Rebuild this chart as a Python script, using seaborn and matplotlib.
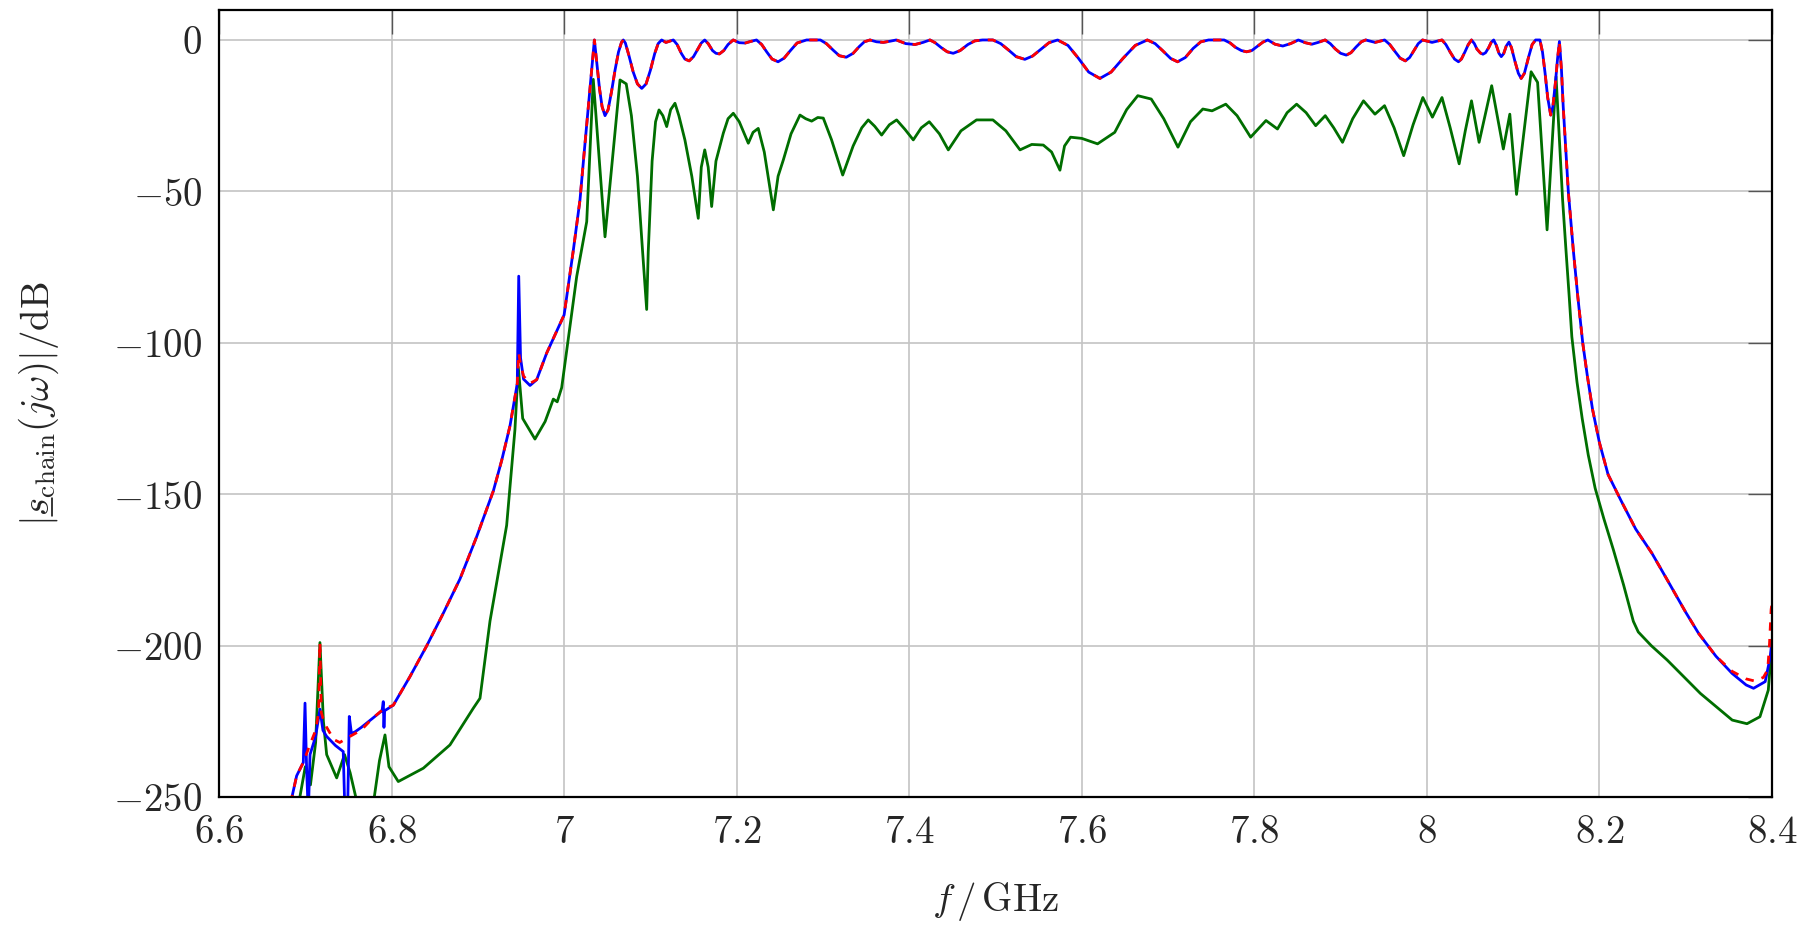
import numpy as np
import pandas as pd
import seaborn as sns
import matplotlib
matplotlib.use("Agg")
import matplotlib.pyplot as plt
from matplotlib.lines import Line2D
from matplotlib.transforms import IdentityTransform
from matplotlib.font_manager import FontProperties

# ---------------- data ----------------
# left low-frequency region (blue and red differ)
low_blue_f = [6.683, 6.690, 6.6977, 6.6997, 6.7015, 6.7035, 6.7055, 6.712, 6.717, 6.7205,
              6.7248, 6.735, 6.744, 6.746, 6.749, 6.751, 6.7535, 6.7576, 6.765, 6.778,
              6.789, 6.7904, 6.7912, 6.792]
low_blue_db = [-252, -243, -238.6, -219, -240, -256, -236, -230, -221, -228,
               -230, -233, -235, -256, -256, -223.4, -229, -228.5, -227, -224,
               -221.5, -218.5, -227, -221.5]
low_red_f = [6.683, 6.690, 6.6977, 6.705, 6.712, 6.7155, 6.717, 6.7185, 6.7205, 6.7248,
             6.733, 6.740, 6.7518, 6.7648, 6.778, 6.7904]
low_red_db = [-252, -243, -238.6, -233, -228, -222, -199, -222, -224, -227,
              -231, -232, -230, -227.9, -224, -221]

# shared rising flank
rise_f = [6.802, 6.8214, 6.8407, 6.86, 6.8793, 6.8987, 6.918, 6.9277, 6.9373, 6.9457]
rise_db = [-219.7, -210.2, -200.1, -189.3, -178, -164, -148.9, -138.8, -127.4, -113.5]

# spike near 6.95 GHz (differs)
spike_blue_f = [6.9474, 6.9495, 6.953, 6.9605]
spike_blue_db = [-78, -105, -112, -114.1]
spike_red_f = [6.9474, 6.9495, 6.953, 6.9605]
spike_red_db = [-103.4, -107, -111, -113.4]

# shared: upper flank, passband ripple and falling flank
band_f = [6.9682, 6.9798, 7.0, 7.0107, 7.0184, 7.023, 7.030, 7.0351,
          7.038, 7.041, 7.044, 7.0474, 7.051, 7.055, 7.059, 7.063, 7.0665, 7.0686,
          7.071, 7.075, 7.080, 7.085, 7.090, 7.095, 7.100, 7.105, 7.109, 7.113,
          7.118, 7.1266, 7.131, 7.136, 7.140, 7.145, 7.150, 7.155, 7.159, 7.163,
          7.167, 7.172, 7.176, 7.180, 7.185, 7.190, 7.196, 7.203, 7.210, 7.216,
          7.223, 7.229, 7.235, 7.241, 7.248, 7.255, 7.262, 7.270, 7.281, 7.297,
          7.304, 7.312, 7.319, 7.327, 7.335, 7.342, 7.348, 7.3545, 7.362, 7.370,
          7.378, 7.385, 7.396, 7.4067, 7.416, 7.424, 7.430, 7.437, 7.444, 7.451,
          7.459, 7.468, 7.476, 7.485, 7.497, 7.506, 7.515, 7.524, 7.534, 7.543,
          7.553, 7.562, 7.572, 7.584, 7.596, 7.608, 7.621, 7.634, 7.648, 7.662,
          7.676, 7.685, 7.694, 7.703, 7.711, 7.720, 7.729, 7.738, 7.747, 7.765,
          7.772, 7.778, 7.785, 7.791, 7.797, 7.803, 7.810, 7.8157, 7.824, 7.833,
          7.842, 7.851, 7.859, 7.8667, 7.874, 7.882, 7.888, 7.894, 7.900, 7.9066,
          7.912, 7.918, 7.924, 7.929, 7.940, 7.951, 7.957, 7.963, 7.969, 7.975,
          7.980, 7.985, 7.990, 7.995, 8.006, 8.0175, 8.022, 8.027, 8.032, 8.0366,
          8.040, 8.044, 8.048, 8.0517, 8.055, 8.058, 8.062, 8.065, 8.068, 8.0715,
          8.0745, 8.0774, 8.0805, 8.0835, 8.0862, 8.089, 8.092, 8.0951, 8.098, 8.102,
          8.106, 8.1093, 8.113, 8.118, 8.122, 8.126, 8.131, 8.134, 8.137, 8.140,
          8.1435, 8.146, 8.149, 8.1515, 8.1536, 8.156, 8.158, 8.1639, 8.1697, 8.175,
          8.1806, 8.186, 8.192, 8.2, 8.21, 8.2248, 8.242, 8.2608, 8.28, 8.30,
          8.315, 8.335]
band_db = [-112.2, -103.4, -90.8, -69.4, -52.8, -38, -16, 0,
           -8, -16, -22, -25, -23, -17, -10, -4, -0.8, 0,
           -1, -5, -10.5, -14.5, -16, -14.5, -10, -4.5, -1.2, 0,
           -0.8, 0, -1.5, -4.5, -6.3, -6.9, -5.5, -3, -1, 0,
           -1.2, -3.5, -4.4, -4.6, -3.5, -1.5, 0, -0.9, -1, -0.5,
           0, -1.5, -4, -6.3, -7.2, -6, -3.6, -1, 0, 0,
           -1.2, -3.4, -5.2, -5.7, -4.4, -2.2, -0.6, 0, -0.6, -0.8,
           -0.4, 0, -1.2, -1.5, -0.8, 0, -0.9, -2.5, -3.9, -4.4,
           -3.5, -1.5, -0.3, 0, 0, -1.2, -3.3, -5.5, -6.4, -5.3,
           -3, -0.9, 0, -1.8, -6, -10.6, -12.7, -10.6, -6, -1.8,
           0, -1.2, -3.6, -6.1, -7.2, -5.8, -2.8, -0.6, 0, 0,
           -1, -2.4, -3.5, -3.9, -3.5, -2.2, -0.7, 0, -1.4, -2,
           -1.2, 0, -0.9, -1.4, -0.8, 0, -1.2, -3, -4.4, -5,
           -4.2, -2.3, -0.6, 0, -0.8, 0, -1.5, -3.8, -6, -6.9,
           -5.8, -3.5, -1.2, 0, -0.8, 0, -1.5, -4, -6.3, -7.2,
           -6.3, -4, -1.5, 0, -1.2, -3, -4.3, -4.7, -4.2, -2.6,
           -0.8, 0, -1.8, -4.4, -5.5, -4.5, -2, -0.7, -2.5, -7,
           -11, -12.7, -11, -5.5, -1.5, 0, 0, -4, -11, -19,
           -24.8, -22, -14, -6, -0.5, -10, -22, -50, -69.4, -85,
           -100, -111, -122, -133, -143.5, -152, -161.5, -169.5, -179, -189,
           -196, -203.5]

# right high-frequency end (differs)
high_blue_f = [8.3538, 8.37, 8.3786, 8.3921, 8.398, 8.4]
high_blue_db = [-209.2, -213, -214.1, -211.9, -203.7, -198]
high_red_f = [8.3538, 8.37, 8.38, 8.39, 8.395, 8.397, 8.399, 8.4]
high_red_db = [-208.5, -211, -211.7, -210.5, -208, -200, -188, -186]

# green curve
green_f = [6.690, 6.700, 6.706, 6.712, 6.717, 6.721, 6.7248, 6.7364, 6.7455, 6.752,
           6.7634, 6.777, 6.786, 6.7924, 6.797, 6.8078, 6.8368, 6.8677, 6.8947, 6.9025,
           6.9141, 6.9334, 6.943, 6.9469, 6.952, 6.9662, 6.978, 6.9875, 6.992, 6.9972,
           7.0146, 7.0262, 7.0338, 7.0474, 7.0648, 7.072, 7.078, 7.085, 7.091, 7.0957,
           7.0975, 7.102, 7.106, 7.11, 7.1145, 7.1189, 7.1235, 7.1285, 7.133, 7.14,
           7.148, 7.1555, 7.159, 7.163, 7.167, 7.171, 7.176, 7.1845, 7.19, 7.1961,
           7.203, 7.2135, 7.219, 7.225, 7.232, 7.2425, 7.248, 7.2541, 7.263, 7.2734,
           7.28, 7.2869, 7.294, 7.3004, 7.31, 7.3229, 7.335, 7.345, 7.3525, 7.36,
           7.368, 7.377, 7.3854, 7.395, 7.4047, 7.414, 7.4232, 7.435, 7.4453, 7.46,
           7.478, 7.497, 7.512, 7.5284, 7.542, 7.5554, 7.565, 7.5747, 7.58, 7.587,
           7.6, 7.6183, 7.6382, 7.652, 7.6649, 7.6805, 7.695, 7.7115, 7.726, 7.7403,
           7.751, 7.7669, 7.78, 7.7957, 7.8135, 7.8268, 7.838, 7.849, 7.86, 7.8711,
           7.8822, 7.892, 7.9022, 7.914, 7.9265, 7.9398, 7.9509, 7.962, 7.9731, 7.984,
           7.9953, 8.0064, 8.0175, 8.027, 8.0374, 8.0445, 8.0517, 8.0605, 8.0751, 8.0886,
           8.0961, 8.1039, 8.1208, 8.1283, 8.1393, 8.1497, 8.1573, 8.1612, 8.165, 8.168,
           8.174, 8.18, 8.187, 8.195, 8.205, 8.2162, 8.228, 8.2393, 8.245, 8.26,
           8.2786, 8.317, 8.3539, 8.371, 8.386, 8.3957, 8.4]
green_db = [-256, -240, -246, -232, -199, -225, -236, -243.7, -236, -242,
            -256, -256, -238, -229.5, -240, -244.9, -240.5, -232.8, -220.7, -217.4,
            -191.9, -160.3, -128.7, -108, -125, -131.8, -126, -118.6, -119.5, -114.8,
            -78.1, -60, -13, -65, -13.2, -14.5, -25, -45, -70, -89,
            -70, -40, -27, -23.1, -25, -28.6, -23, -20.9, -25, -33,
            -45, -58.9, -42, -36.3, -42, -55, -40, -30.8, -26, -24.2,
            -27, -34.1, -30.5, -29.2, -37, -56.1, -45, -39.6, -31, -24.8,
            -26, -26.8, -25.6, -25.8, -33, -44.6, -35, -29, -26.4, -28.5,
            -31.4, -28, -26.4, -29.5, -33, -29, -27, -31, -36.3, -30,
            -26.4, -26.4, -30, -36.3, -34.5, -34.7, -37, -43, -35, -32.1,
            -32.5, -34.3, -30.5, -23, -18.4, -19.5, -26, -35.4, -27, -22.8,
            -23.4, -21.2, -25, -32.1, -26.6, -29.4, -24, -21.2, -24, -28.3,
            -25, -29, -33.8, -26, -20.1, -24.5, -21.7, -29, -38.2, -28,
            -19, -25.5, -19, -29, -40.9, -30, -20.1, -33.8, -15.1, -36,
            -24.5, -51, -10.5, -14, -62.7, -12.1, -52.8, -69.4, -85, -98,
            -113, -125, -137, -148, -158, -168.4, -180, -192, -195.5, -200,
            -204.8, -215.8, -224.6, -225.8, -223.5, -214.7, -199]

x_ticks = [6.6, 6.8, 7.0, 7.2, 7.4, 7.6, 7.8, 8.0, 8.2, 8.4]
x_tick_labels = ["6.6", "6.8", "7", "7.2", "7.4", "7.6", "7.8", "8", "8.2", "8.4"]
y_ticks = [-250, -200, -150, -100, -50, 0]
y_tick_labels = ["-250", "-200", "-150", "-100", "-50", "0"]

# ---------------- assemble series ----------------
blue_f = low_blue_f + rise_f + spike_blue_f + band_f + high_blue_f
blue_db = low_blue_db + rise_db + spike_blue_db + band_db + high_blue_db
red_f = low_red_f + rise_f + spike_red_f + band_f + high_red_f
red_db = low_red_db + rise_db + spike_red_db + band_db + high_red_db

# ---------------- style ----------------
sns.set_style("white")
plt.rcParams["mathtext.fontset"] = "cm"
plt.rcParams["font.family"] = ["DejaVu Serif"]

fig = plt.figure(figsize=(18.09, 9.25), dpi=100)
ax = fig.add_axes([0.12106, 0.13838, 0.85849, 0.85114])

lw = 2.0
sns.lineplot(x=green_f, y=green_db, ax=ax, color=(0.0, 0.43, 0.0), lw=lw,
             estimator=None, sort=False)
sns.lineplot(x=blue_f, y=blue_db, ax=ax, color="#0000ff", lw=lw,
             estimator=None, sort=False)
sns.lineplot(x=red_f, y=red_db, ax=ax, color="#ff0000", lw=lw,
             linestyle=(0, (3.0, 3.0)), estimator=None, sort=False)

ax.set_xlim(6.6, 8.4)
ax.set_ylim(-250, 10)
ax.set_xticks(x_ticks)
ax.set_xticklabels(["$" + t + "$" for t in x_tick_labels])
ax.set_yticks(y_ticks)
ax.set_yticklabels(["$" + t + "$" for t in y_tick_labels])
ax.grid(True, color="#c4c4c4", lw=1.2)
ax.set_axisbelow(True)
ax.tick_params(which="both", direction="in", top=True, right=True,
               length=17, width=1.0, color="#555555", labelsize=28, pad=12)
for s in ax.spines.values():
    s.set_visible(True)
    s.set_color("black")
    s.set_linewidth(1.6)

ylabel = r"$|s_{\mathrm{chain}}(j\omega)|/\mathrm{dB}$"
ax.set_ylabel(ylabel, fontsize=28, labelpad=38)
ax.set_xlabel(r"$f\,/\,\mathrm{GHz}$", fontsize=28, labelpad=21)

# underline under the "s" of the y label (mathtext has no \underline)
fig.canvas.draw()
renderer = fig.canvas.get_renderer()
bb = ax.yaxis.label.get_window_extent(renderer)
prop = FontProperties(size=28)
w1, _, _ = renderer.get_text_width_height_descent(r"$|$", prop, ismath=True)
w2, _, _ = renderer.get_text_width_height_descent(r"$|s$", prop, ismath=True)
_, _, dfull = renderer.get_text_width_height_descent(ylabel, prop, ismath=True)
em = 28 * 100 / 72.0
x_ul = bb.x1 - dfull + 0.09 * em
fig.add_artist(Line2D([x_ul, x_ul], [bb.y0 + w1 + 1, bb.y0 + w2 - 1],
                      transform=IdentityTransform(), color="black", lw=1.1))

fig.savefig("out.png", dpi=100)
